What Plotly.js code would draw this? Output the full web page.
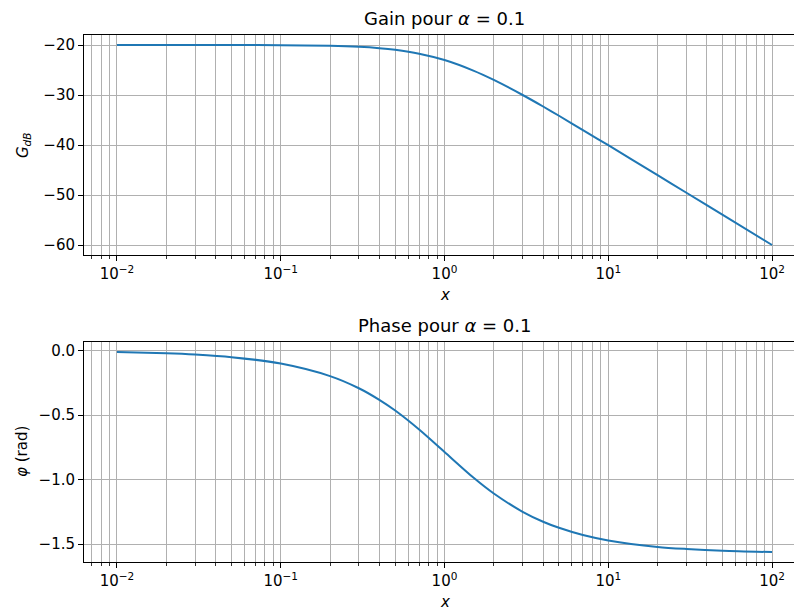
<!DOCTYPE html>
<html>
<head>
<meta charset="utf-8">
<script src="https://cdn.plot.ly/plotly-3.0.1.min.js"></script>
<style>html,body{margin:0;padding:0;background:#fff}</style>
</head>
<body>
<div id="chart" style="width:794px;height:612px"></div>
<script>
// Values
const xValues = [0.01, 0.02, 0.03, 0.05, 0.1, 0.2, 0.3, 0.4, 0.5, 0.7, 1, 1.5, 2, 3, 4, 5, 7, 10, 20, 30, 50, 100];
const gainDb = [-20.0, -20.0, -20.0, -20.01, -20.04, -20.17, -20.37, -20.64, -20.97, -21.74, -23.01, -25.12, -26.99, -30.0, -32.3, -34.15, -37.03, -40.04, -46.03, -49.55, -53.98, -60.0];
const phaseRad = [-0.01, -0.02, -0.03, -0.05, -0.0997, -0.197, -0.291, -0.381, -0.464, -0.611, -0.785, -0.983, -1.107, -1.249, -1.326, -1.373, -1.429, -1.471, -1.521, -1.537, -1.551, -1.561];
const gainTitle = "Gain pour <i>α</i> = 0.1";
const phaseTitle = "Phase pour <i>α</i> = 0.1";
const gainLabel = "<i>G</i><sub><i>dB</i></sub>";
const phaseLabel = "<i>φ</i> (rad)";
const xLabel = "<i>x</i>";
const xMajorTicks = [0.01, 0.1, 1, 10, 100];
const xMajorText = ["10<sup>−2</sup>", "10<sup>−1</sup>", "10<sup>0</sup>", "10<sup>1</sup>", "10<sup>2</sup>"];
const xMinorTicks = [0.007, 0.008, 0.009,
  0.02, 0.03, 0.04, 0.05, 0.06, 0.07, 0.08, 0.09,
  0.2, 0.3, 0.4, 0.5, 0.6, 0.7, 0.8, 0.9,
  2, 3, 4, 5, 6, 7, 8, 9,
  20, 30, 40, 50, 60, 70, 80, 90];
const gainTicks = [-20, -30, -40, -50, -60];
const phaseTicks = [0, -0.5, -1.0, -1.5];

const W = 794, H = 612;
const font = {family: "DejaVu Sans, sans-serif", size: 15, color: "#000"};
const titleFont = {family: "DejaVu Sans, sans-serif", size: 18, color: "#000"};
const gridColor = "#b0b0b0";

function xAxis(anchor) {
  return {
    type: "log",
    range: [-2.2012, 2.134],
    domain: [0, 1],
    anchor: anchor,
    tickmode: "array",
    tickvals: xMajorTicks,
    ticktext: xMajorText,
    ticks: "outside", ticklen: 5, tickwidth: 1, tickcolor: "#000",
    showgrid: true, gridcolor: gridColor, gridwidth: 1,
    showline: true, linecolor: "#000", linewidth: 1, mirror: true,
    zeroline: false,
    automargin: false,
    tickfont: font,
    minor: {tickmode: "array", tickvals: xMinorTicks, ticks: "outside", ticklen: 3, tickwidth: 0.8, tickcolor: "#000", showgrid: true, gridcolor: gridColor, gridwidth: 1}
  };
}
function yAxis(anchor, domain, range, ticks, fmt) {
  return {
    domain: domain,
    anchor: anchor,
    range: range,
    tickmode: "array",
    tickvals: ticks,
    tickformat: fmt,
    ticks: "outside", ticklen: 5, tickwidth: 1, tickcolor: "#000",
    showgrid: true, gridcolor: gridColor, gridwidth: 1,
    showline: true, linecolor: "#000", linewidth: 1, mirror: false,
    zeroline: false,
    automargin: false,
    tickfont: font
  };
}

const traces = [
  {x: xValues, y: gainDb, xaxis: "x", yaxis: "y", mode: "lines", line: {color: "#1f77b4", width: 2, shape: "spline", smoothing: 0.8}, hoverinfo: "none"},
  {x: xValues, y: phaseRad, xaxis: "x2", yaxis: "y2", mode: "lines", line: {color: "#1f77b4", width: 2, shape: "spline", smoothing: 0.8}, hoverinfo: "none"}
];

const topDom = [1 - 255 / H, 1 - 35 / H];
const botDom = [1 - 562 / H, 1 - 342 / H];
const cx = (444.5 - 84) / 710;

const layout = {
  width: W, height: H,
  margin: {l: 84, r: 0, t: 0, b: 0},
  paper_bgcolor: "#fff", plot_bgcolor: "#fff",
  showlegend: false,
  font: font,
  xaxis: xAxis("y"),
  yaxis: yAxis("x", topDom, [-62, -18], gainTicks, "d"),
  xaxis2: xAxis("y2"),
  yaxis2: yAxis("x2", botDom, [-1.638, 0.0675], phaseTicks, ".1f"),
  annotations: [
    {text: gainTitle, xref: "paper", yref: "paper", x: cx, y: 1 - 18 / H, xanchor: "center", yanchor: "middle", showarrow: false, font: titleFont},
    {text: phaseTitle, xref: "paper", yref: "paper", x: cx, y: 1 - 325 / H, xanchor: "center", yanchor: "middle", showarrow: false, font: titleFont},
    {text: gainLabel, xref: "paper", yref: "paper", x: (23 - 84) / 710, y: 1 - 145 / H, xanchor: "center", yanchor: "middle", textangle: -90, showarrow: false, font: font},
    {text: phaseLabel, xref: "paper", yref: "paper", x: (22 - 84) / 710, y: 1 - 452 / H, xanchor: "center", yanchor: "middle", textangle: -90, showarrow: false, font: font},
    {text: xLabel, xref: "paper", yref: "paper", x: cx, y: 1 - 295 / H, xanchor: "center", yanchor: "middle", showarrow: false, font: font},
    {text: xLabel, xref: "paper", yref: "paper", x: cx, y: 1 - 602 / H, xanchor: "center", yanchor: "middle", showarrow: false, font: font}
  ]
};

Plotly.newPlot("chart", traces, layout, {staticPlot: true, displayModeBar: false});
</script>
</body>
</html>
